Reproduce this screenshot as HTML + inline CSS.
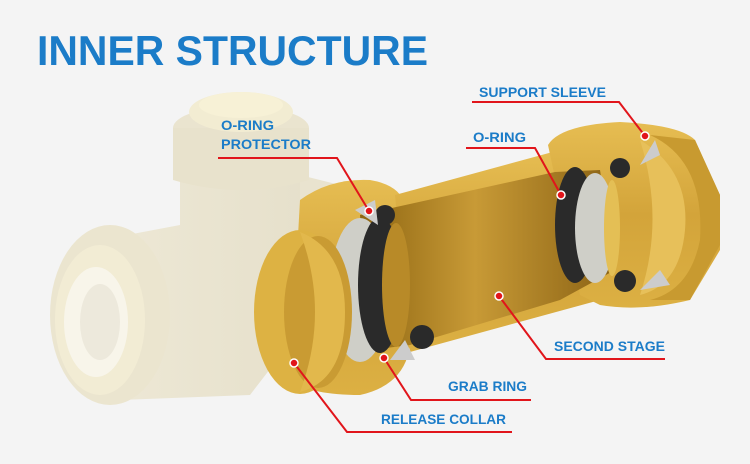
<!DOCTYPE html>
<html><head><style>
html,body{margin:0;padding:0;background:#f4f4f4;}
svg{display:block}
text{font-family:"Liberation Sans",sans-serif;font-weight:bold;fill:#1b7cc8}
</style></head><body>
<svg width="750" height="464" viewBox="0 0 750 464">
<defs>
<linearGradient id="br" x1="0" y1="0" x2="0" y2="1"><stop offset="0" stop-color="#e6bd52"/><stop offset=".5" stop-color="#d3a43a"/><stop offset="1" stop-color="#dcb043"/></linearGradient>
<linearGradient id="brin" x1="0" y1="0" x2="1" y2="0"><stop offset="0" stop-color="#8e6612"/><stop offset=".45" stop-color="#c89a36"/><stop offset="1" stop-color="#8a6214"/></linearGradient>
<linearGradient id="bg" x1="0" y1="0" x2="1" y2="0"><stop offset="0" stop-color="#efead8"/><stop offset="1" stop-color="#e6e0cb"/></linearGradient>
</defs>
<rect width="750" height="464" fill="#f4f4f4"/>
<text x="37" y="65" font-size="42" textLength="391" lengthAdjust="spacingAndGlyphs">INNER STRUCTURE</text>
<!-- beige tee -->
<g>
<path d="M180 125 L180 225 L100 240 L60 300 L65 370 L120 400 L250 395 L300 330 L300 210 L305 125 Z" fill="url(#bg)"/>
<path d="M300 175 L340 185 L345 240 L300 260 Z" fill="#e9e3cf"/>
<ellipse cx="241" cy="128" rx="68" ry="22" fill="#eae4cf"/>
<path d="M173 128 L173 180 Q241 200 309 180 L309 128 Z" fill="#e8e2cc"/>
<ellipse cx="241" cy="112" rx="52" ry="20" fill="#f2ecd2"/>
<ellipse cx="241" cy="105" rx="42" ry="13" fill="#f7f1d6"/>
<ellipse cx="110" cy="315" rx="60" ry="90" fill="#ebe5cf"/>
<ellipse cx="100" cy="320" rx="45" ry="75" fill="#f2ecd4"/>
<ellipse cx="96" cy="322" rx="32" ry="55" fill="#f8f5ea"/>
<ellipse cx="100" cy="322" rx="20" ry="38" fill="#ede9dc"/>
</g>
<!-- brass: left collar -->
<path d="M300 200 Q330 178 370 180 Q400 185 405 205 L410 345 Q405 385 360 395 Q310 395 290 380 Z" fill="url(#br)"/>
<!-- middle tube -->
<path d="M395 195 L560 150 L580 160 L600 300 L410 352 Z" fill="url(#br)"/>
<!-- right sleeve -->
<path d="M548 145 Q560 125 620 122 Q680 125 695 140 L720 195 L720 250 L690 300 Q640 312 600 305 L580 295 Z" fill="url(#br)"/>
<path d="M650 135 Q705 160 700 240 Q690 290 650 300 L690 300 L720 245 L720 195 L695 140 Z" fill="#c89a30"/>
<path d="M640 140 Q690 170 685 230 Q680 285 640 295 Q665 220 640 140 Z" fill="#e7c05a"/>
<!-- inner cutaway -->
<path d="M360 215 L555 172 L600 170 L615 270 L560 300 L410 345 L370 350 Z" fill="url(#brin)"/>
<ellipse cx="360" cy="290" rx="30" ry="72" fill="#cfcfc8"/>
<ellipse cx="380" cy="285" rx="22" ry="68" fill="#2a2a2a"/>
<ellipse cx="396" cy="285" rx="14" ry="62" fill="#b88a28"/>
<ellipse cx="575" cy="225" rx="20" ry="58" fill="#2a2a2a"/>
<ellipse cx="595" cy="228" rx="20" ry="55" fill="#cfcfc8"/>
<ellipse cx="612" cy="228" rx="8" ry="48" fill="#e4bf55"/>
<circle cx="385" cy="215" r="10" fill="#2a2a2a"/><circle cx="422" cy="337" r="12" fill="#2a2a2a"/>
<circle cx="620" cy="168" r="10" fill="#2a2a2a"/><circle cx="625" cy="281" r="11" fill="#2a2a2a"/>
<path d="M355 210 L375 200 L378 225 Z" fill="#ccc"/><path d="M390 360 L405 340 L415 360 Z" fill="#ccc"/>
<path d="M640 165 L655 140 L660 155 Z" fill="#ccc"/><path d="M640 290 L660 270 L670 285 Z" fill="#ccc"/>
<!-- left open collar lip -->
<ellipse cx="300" cy="312" rx="46" ry="82" fill="#ddb243"/>
<ellipse cx="318" cy="312" rx="34" ry="76" fill="#c99b33"/>
<path d="M300 232 Q345 250 345 312 Q345 380 300 392 Q330 312 300 232 Z" fill="#e2b84c"/>
<!-- leader lines -->
<g stroke="#e1151b" stroke-width="2" fill="none">
<polyline points="472,102 619,102 645,136"/>
<polyline points="466,148 535,148 561,195"/>
<polyline points="218,158 337,158 369,211"/>
<polyline points="665,359 546,359 499,296"/>
<polyline points="531,400 411,400 384,358"/>
<polyline points="512,432 347,432 294,363"/>
</g>
<g fill="#e1151b" stroke="#fff" stroke-width="1.5">
<circle cx="645" cy="136" r="4"/><circle cx="561" cy="195" r="4"/><circle cx="369" cy="211" r="4"/>
<circle cx="499" cy="296" r="4"/><circle cx="384" cy="358" r="4"/><circle cx="294" cy="363" r="4"/>
</g>
<g font-size="14">
<text x="479" y="97" textLength="127" lengthAdjust="spacingAndGlyphs">SUPPORT SLEEVE</text>
<text x="473" y="142" textLength="53" lengthAdjust="spacingAndGlyphs">O-RING</text>
<text x="221" y="130" textLength="53" lengthAdjust="spacingAndGlyphs">O-RING</text>
<text x="221" y="149" textLength="90" lengthAdjust="spacingAndGlyphs">PROTECTOR</text>
<text x="554" y="351" textLength="111" lengthAdjust="spacingAndGlyphs">SECOND STAGE</text>
<text x="448" y="391" textLength="79" lengthAdjust="spacingAndGlyphs">GRAB RING</text>
<text x="381" y="424" textLength="125" lengthAdjust="spacingAndGlyphs">RELEASE COLLAR</text>
</g>
</svg>
</body></html>
